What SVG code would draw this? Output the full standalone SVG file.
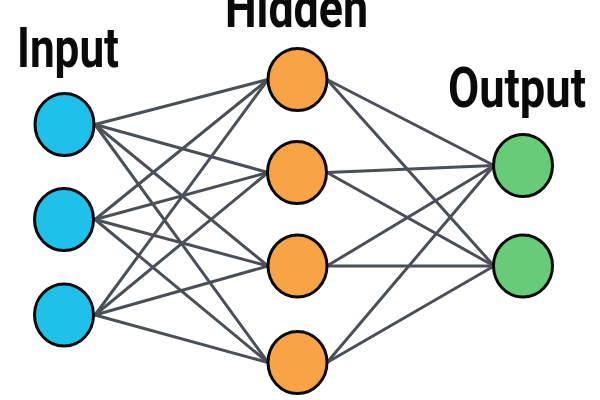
<svg xmlns="http://www.w3.org/2000/svg" width="600" height="400" viewBox="0 0 600 400">
<style>
.bg{fill:#ffffff}
.lbl{font-family:Roboto,"Liberation Sans",sans-serif;font-weight:700;font-size:55px;fill:#0a0a0a}
.edge{stroke:#4a5057;stroke-width:3;stroke-linecap:round;fill:none}
.node{stroke:#0a0a0a;stroke-width:3}
.in{fill:#1ec1e9}
.hid{fill:#f8a344}
.out{fill:#67cc78}
</style>
<rect class="bg" x="0" y="0" width="600" height="400"/>
<text class="lbl" x="17" y="67" textLength="102" lengthAdjust="spacingAndGlyphs">Input</text>
<text class="lbl" x="225" y="27" textLength="143" lengthAdjust="spacingAndGlyphs">Hidden</text>
<text class="lbl" x="448" y="107" textLength="138" lengthAdjust="spacingAndGlyphs">Output</text>
<g id="connectors">
<line class="edge" x1="95" y1="124.5" x2="268" y2="79.5"/>
<line class="edge" x1="95" y1="124.5" x2="268" y2="172.5"/>
<line class="edge" x1="95" y1="124.5" x2="268" y2="266"/>
<line class="edge" x1="95" y1="124.5" x2="268" y2="362.5"/>
<line class="edge" x1="95" y1="219.5" x2="268" y2="79.5"/>
<line class="edge" x1="95" y1="219.5" x2="268" y2="172.5"/>
<line class="edge" x1="95" y1="219.5" x2="268" y2="266"/>
<line class="edge" x1="95" y1="219.5" x2="268" y2="362.5"/>
<line class="edge" x1="95" y1="315" x2="268" y2="79.5"/>
<line class="edge" x1="95" y1="315" x2="268" y2="172.5"/>
<line class="edge" x1="95" y1="315" x2="268" y2="266"/>
<line class="edge" x1="95" y1="315" x2="268" y2="362.5"/>
<line class="edge" x1="327" y1="79.5" x2="494" y2="165.5"/>
<line class="edge" x1="327" y1="79.5" x2="494" y2="266"/>
<line class="edge" x1="327" y1="172.5" x2="494" y2="165.5"/>
<line class="edge" x1="327" y1="172.5" x2="494" y2="266"/>
<line class="edge" x1="327" y1="266" x2="494" y2="165.5"/>
<line class="edge" x1="327" y1="266" x2="494" y2="266"/>
<line class="edge" x1="327" y1="362.5" x2="494" y2="165.5"/>
<line class="edge" x1="327" y1="362.5" x2="494" y2="266"/>
</g>
<g id="input1"><ellipse class="node in" cx="64.5" cy="124.5" rx="29.5" ry="31"/></g>
<g id="input2"><ellipse class="node in" cx="64" cy="219.5" rx="29.5" ry="31"/></g>
<g id="input3"><ellipse class="node in" cx="64" cy="315" rx="29.5" ry="31"/></g>
<g id="hidden1"><ellipse class="node hid" cx="297.5" cy="79.5" rx="29.5" ry="31"/></g>
<g id="hidden2"><ellipse class="node hid" cx="297" cy="172.5" rx="29.5" ry="31"/></g>
<g id="hidden3"><ellipse class="node hid" cx="297.5" cy="266" rx="29.5" ry="31"/></g>
<g id="hidden4"><ellipse class="node hid" cx="297.5" cy="362.5" rx="29.5" ry="31"/></g>
<g id="output1"><ellipse class="node out" cx="523" cy="165.5" rx="29.5" ry="31"/></g>
<g id="output2"><ellipse class="node out" cx="523" cy="266" rx="29.5" ry="31"/></g>
</svg>
